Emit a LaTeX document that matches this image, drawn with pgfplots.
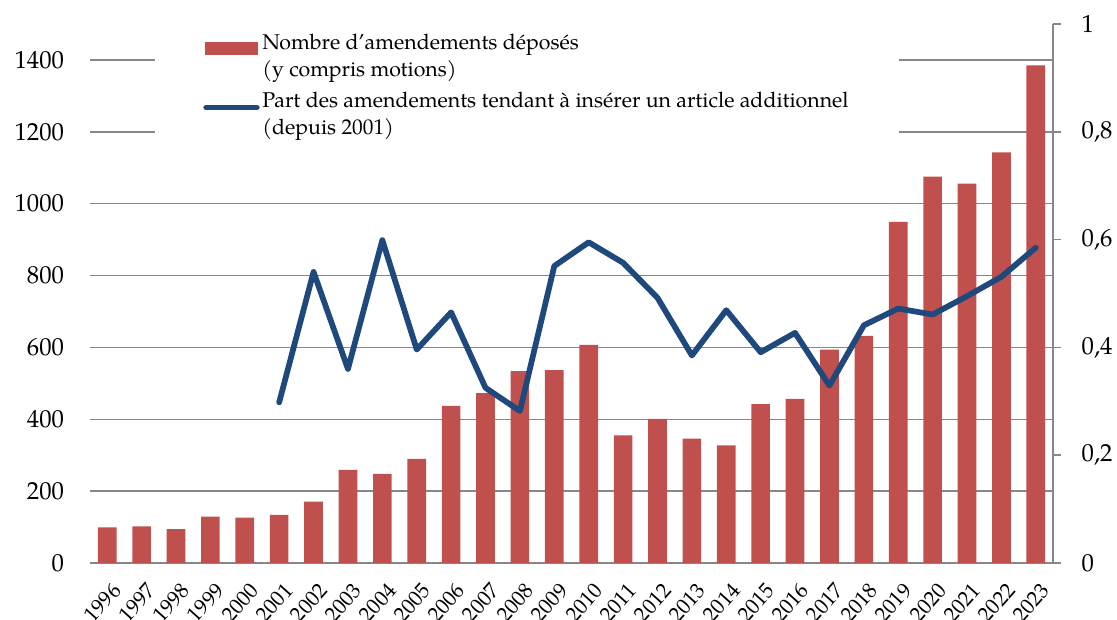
\documentclass[border=0pt]{standalone}
\usepackage{pgfplots}
\pgfplotsset{compat=1.18}
\usepackage{fontspec}
\setmainfont{TeX Gyre Pagella}
\definecolor{barred}{HTML}{C0504D}
\definecolor{lineblue}{HTML}{1F497D}
\definecolor{gridgray}{HTML}{878787}
\begin{document}
\begin{tikzpicture}
\useasboundingbox (-67.5pt,-42.75pt) rectangle (770.25pt,422.25pt);
\begin{axis}[
  at={(0pt,0pt)}, anchor=south west,
  scale only axis, width=722.25pt, height=404.25pt,
  xmin=-0.5, xmax=27.5, ymin=0, ymax=1500,
  axis x line*=bottom, axis y line*=left,
  x axis line style={draw=gridgray, line width=1.1pt, -},
  y axis line style={draw=none},
  xtick={0,...,27},
  xticklabels={1996,1997,1998,1999,2000,2001,2002,2003,2004,2005,2006,2007,2008,2009,2010,2011,2012,2013,2014,2015,2016,2017,2018,2019,2020,2021,2022,2023},
  xticklabel style={yshift=-14pt, xshift=3pt, rotate=48, anchor=north east, inner sep=0pt, font=\fontsize{16}{18}\selectfont},
  ytick={0,200,400,600,800,1000,1200,1400},
  yticklabels={0,200,400,600,800,1000,1200,1400},
  yticklabel style={anchor=east, xshift=-16pt, font=\fontsize{18.5}{20}\selectfont},
  tick style={draw=none},
  ymajorgrids, major grid style={draw=gridgray, line width=1.1pt},
]
\addplot[ybar, bar width=14pt, fill=barred, draw=none] coordinates {
(0,99) (1,102) (2,94) (3,129) (4,126) (5,134) (6,171) (7,259) (8,248) (9,290)
(10,437) (11,473) (12,534) (13,537) (14,607) (15,355) (16,401) (17,346) (18,327) (19,442)
(20,457) (21,594) (22,632) (23,949) (24,1075) (25,1056) (26,1143) (27,1385)};
\end{axis}
\begin{axis}[
  at={(0pt,0pt)}, anchor=south west,
  scale only axis, width=722.25pt, height=404.25pt,
  xmin=-0.5, xmax=27.5, ymin=0, ymax=1,
  axis x line=none, axis y line*=right,
  y axis line style={draw=gridgray, line width=1.1pt, -},
  ytick={0,0.2,0.4,0.6,0.8,1},
  yticklabels={0,{0,2},{0,4},{0,6},{0,8},1},
  yticklabel style={anchor=west, xshift=12pt, font=\fontsize{18.5}{20}\selectfont},
  tick align=outside, major tick length=6pt,
  ytick style={draw=gridgray, line width=1.1pt},
  legend style={at={(0.0675,0.995)}, anchor=north west, draw=none, fill=white,
    font=\fontsize{16}{20.5}\selectfont, cells={align=left}, row sep=6pt,
    inner xsep=36pt, inner ysep=3pt},
  legend cell align=left,
]
\addlegendimage{legend image code/.code={\fill[barred] (0pt,1pt) rectangle (39pt,10pt);}}
\addlegendentry{Nombre d'amendements déposés\\(y compris motions)}
\addplot[lineblue, line width=4.3pt, line cap=round, line join=round,
  legend image code/.code={\draw[lineblue, line width=4.3pt, line cap=round] (1pt,5pt) -- (39pt,5pt);}]
  coordinates {
(5,0.298) (6,0.540) (7,0.360) (8,0.599) (9,0.396) (10,0.465) (11,0.325) (12,0.282)
(13,0.551) (14,0.595) (15,0.557) (16,0.492) (17,0.385) (18,0.469) (19,0.391) (20,0.427)
(21,0.329) (22,0.441) (23,0.472) (24,0.461) (25,0.495) (26,0.531) (27,0.585)};
\addlegendentry{Part des amendements tendant à insérer un article additionnel\\(depuis 2001)}
\end{axis}
\end{tikzpicture}
\end{document}
